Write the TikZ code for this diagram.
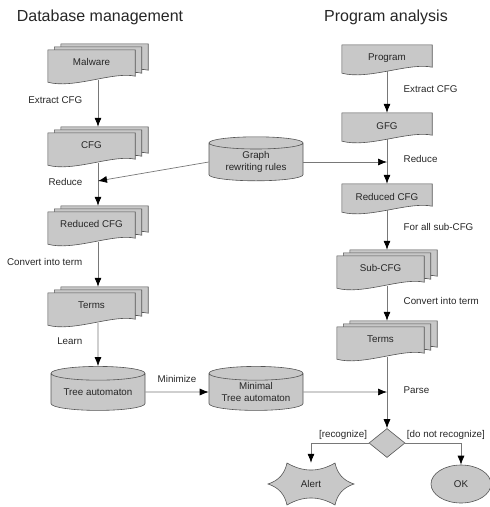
\documentclass[tikz,border=0pt]{standalone}
\usepackage{fontspec}
\setmainfont{Liberation Sans}
\usetikzlibrary{arrows.meta, calc, positioning, shapes.geometric, backgrounds}
\definecolor{boxgray}{RGB}{200,200,200}
\definecolor{rimgray}{RGB}{85,85,85}
\definecolor{wiregray}{RGB}{120,120,120}
\tikzset{
  every node/.style={font=\fontsize{9.8}{11.5}\selectfont, text=black!85},
  heading/.style={font=\fontsize{16}{19}\selectfont},
  sheet/.style={draw=rimgray, fill=boxgray, line width=0.6pt},
  stackdoc/.style={minimum width=100pt, minimum height=36pt, inner sep=0pt, execute at end node={\hspace*{13pt}}},
  onedoc/.style={minimum width=90pt, minimum height=26pt, inner sep=0pt},
  dbase/.style={cylinder, shape border rotate=90, aspect=0.2, draw=rimgray, fill=boxgray, line width=0.6pt, minimum width=94pt, minimum height=44pt, align=center, inner sep=0pt},
  choice/.style={diamond, draw=rimgray, fill=boxgray, line width=0.6pt, minimum width=36pt, minimum height=29pt, inner sep=0pt},
  final/.style={ellipse, draw=rimgray, fill=boxgray, line width=0.6pt, minimum width=60pt, minimum height=38pt},
  flow/.style={-{Latex[length=9pt,width=7pt,color=black]}, wiregray, line width=0.7pt},
  tagl/.style={left=12pt, yshift=3pt},
  tagr/.style={right=13pt, yshift=3pt}
}
% one sheet of a document: node, left cut, right cut, top cut, bottom lift
\newcommand{\sheetat}[5]{%
  \filldraw[sheet]
    ([xshift=#2,yshift=-#4]#1.north west) -- ([xshift=-#3,yshift=-#4]#1.north east)
    -- ([xshift=-#3,yshift=#5+4pt]#1.south east)
    .. controls ([xshift=(#2-#3)/2+22pt,yshift=#5+9pt]#1.south)
           and ([xshift=(#2-#3)/2-18pt,yshift=#5-9pt]#1.south)
    .. ([xshift=#2,yshift=#5-2pt]#1.south west) -- cycle;}
\newcommand{\stacksheets}[1]{%
  \sheetat{#1}{13pt}{0pt}{0pt}{6pt}%
  \sheetat{#1}{6.5pt}{6.5pt}{3pt}{3pt}%
  \sheetat{#1}{0pt}{13pt}{6pt}{0pt}}
\newcommand{\onesheet}[1]{\sheetat{#1}{0pt}{0pt}{0pt}{0pt}}

\begin{document}
\begin{tikzpicture}[x=1pt, y=-1pt]
  \useasboundingbox (0,0) rectangle (490,507);

  % titles
  \node[heading] (dbtitle) at (100,17) {Database management};
  \node[heading] (patitle) at (386,17) {Program analysis};

  % database side
  \node[stackdoc] (malware) at (98,62) {Malware};
  \node[stackdoc] (cfgl) at (98,145) {CFG};
  \node[stackdoc] (redl) at (98,224) {Reduced CFG};
  \node[stackdoc] (terml) at (98,305) {Terms};
  \node[dbase] (treeaut) at (98,392) {Tree automaton};
  \node[dbase] (minaut) at (256,392) {Minimal\\Tree automaton};
  \node[dbase] (rules) at (256,162) {Graph\\rewriting rules};

  % program side
  \node[onedoc] (program) at (387,58) {Program};
  \node[onedoc] (gfg) at (387,126) {GFG};
  \node[onedoc] (redr) at (387,197) {Reduced CFG};
  \node[stackdoc] (subcfg) at (387,268) {Sub-CFG};
  \node[stackdoc] (termr) at (387,339) {Terms};
  \node[choice] (parse) at (387,443) {};
  \node[minimum width=86pt, minimum height=42pt] (alert) at (311,484) {Alert};
  \node[final] (ok) at (461,484) {OK};

  \coordinate (redin) at (98,181);
  \coordinate (gfgin) at (rules.east -| gfg.south);
  \coordinate (parsein) at (minaut.east -| parse.north);

  \begin{scope}[on background layer]
    \stacksheets{malware}
    \stacksheets{cfgl}
    \stacksheets{redl}
    \stacksheets{terml}
    \stacksheets{subcfg}
    \stacksheets{termr}
    \onesheet{program}
    \onesheet{gfg}
    \onesheet{redr}
    \filldraw[sheet] ([shift={(-43,0)}]alert.center)
      to[bend right=30] ([shift={(-24,-21)}]alert.center)
      to[bend right=30] ([shift={(24,-21)}]alert.center)
      to[bend right=30] ([shift={(43,0)}]alert.center)
      to[bend right=30] ([shift={(24,21)}]alert.center)
      to[bend right=30] ([shift={(-24,21)}]alert.center)
      to[bend right=30] ([shift={(-43,0)}]alert.center) -- cycle;
  \end{scope}

  % connectors
  \draw[flow] (malware) -- node[tagl] {Extract CFG} (cfgl);
  \draw[flow] (cfgl) -- node[tagl] {Reduce} (redl);
  \draw[flow] (rules.west) -- (redin);
  \draw[flow] (redl) -- node[tagl] {Convert into term} (terml);
  \draw[flow] (terml) -- node[tagl] {Learn} (treeaut);
  \draw[flow] (treeaut) -- node[above=6pt] {Minimize} (minaut);
  \draw[flow] (minaut) -- (parsein);

  \draw[flow] (program) -- node[tagr] {Extract CFG} (gfg);
  \draw[flow] (gfg) -- node[tagr] {Reduce} (redr);
  \draw[flow] (rules.east) -- (gfgin);
  \draw[flow] (redr) -- node[tagr] {For all sub-CFG} (subcfg);
  \draw[flow] (subcfg) -- node[tagr] {Convert into term} (termr);
  \draw[flow] (termr) -- node[tagr] {Parse} (parse);
  \draw[flow] (parse.west) -| node[pos=0, anchor=south east, xshift=2pt] {[recognize]} (alert.north);
  \draw[flow] (parse.east) -| node[pos=0, anchor=south west, xshift=-2pt] {[do not recognize]} (ok.north);
\end{tikzpicture}
\end{document}
